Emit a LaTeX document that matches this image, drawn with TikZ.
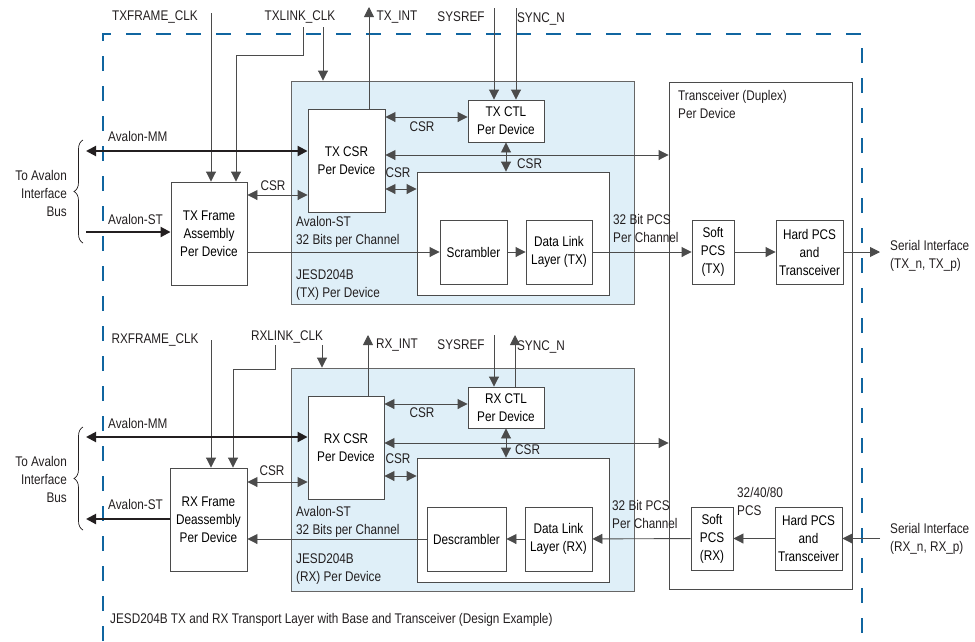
\documentclass[tikz,border=0pt]{standalone}
\usepackage{fontspec}
\setmainfont{Liberation Sans}[FakeStretch=0.84]
\usepackage{tikz}
\usetikzlibrary{arrows.meta,decorations.pathreplacing}
\definecolor{dashblue}{RGB}{16,101,160}
\definecolor{jesdfill}{RGB}{223,239,248}
\definecolor{ink}{RGB}{35,31,32}
\definecolor{wire}{RGB}{75,75,75}
\tikzset{
  blk/.style={draw=wire,line width=0.9pt,fill=white,align=center,inner sep=0pt},
  jesd/.style={draw=wire!85,line width=0.9pt,fill=jesdfill,inner sep=0pt},
  lbl/.style={inner sep=0pt,align=left,text=ink},
  sig/.style={draw=wire,line width=0.9pt},
  bus/.style={draw=ink,line width=2pt},
  brc/.style={draw=ink,line width=0.7pt,decorate,decoration={brace,amplitude=9pt}},
  dashbox/.style={draw=dashblue,line width=2pt,dash pattern=on 15pt off 15pt}
}
\begin{document}
\begin{tikzpicture}[x=1pt,y=-1pt,>={Triangle[length=10pt,width=10pt]},font=\fontsize{14pt}{18pt}\selectfont]
\useasboundingbox (0,0) rectangle (975,641);
\draw[dashbox] (103,641) -- (103,34) -- (862,34) -- (862,641);
% TX half
\node[jesd, minimum width=343, minimum height=223] (txjesd) at (462.5,192.5) {};
\node[blk, minimum width=183, minimum height=507] (xcvr) at (760.5,335.5) {};
\node[blk, minimum width=76, minimum height=103] (txfr) at (209,233.5) {TX Frame\\Assembly\\Per Device};
\node[blk, minimum width=77, minimum height=103] (txcsr) at (346.5,160.5) {TX CSR\\Per Device};
\node[blk, minimum width=76, minimum height=42] (txctl) at (506,121) {TX CTL\\Per Device};
\node[blk, minimum width=192, minimum height=123] (txinner) at (513,233.5) {};
\node[blk, minimum width=67, minimum height=64] (txscr) at (473.5,252) {Scrambler};
\node[blk, minimum width=66, minimum height=64] (txdll) at (559,252) {Data Link\\Layer (TX)};
\node[blk, minimum width=42, minimum height=64] (txsoft) at (713,252) {Soft\\PCS\\(TX)};
\node[blk, minimum width=67, minimum height=64] (txhard) at (809.5,252) {Hard PCS\\and\\Transceiver};
\node[lbl, anchor=west] (txstl) at (296,232) {Avalon-ST\\32 Bits per Channel};
\node[lbl, anchor=west] (txjesdl) at (296,285) {JESD204B\\(TX) Per Device};
\node[lbl, anchor=west] (xcvrl) at (678,104.5) {Transceiver (Duplex)\\Per Device};
\node[lbl, anchor=west] (txpcsl) at (613,228.5) {32 Bit PCS\\Per Channel};
\node[lbl] (txfclkl) at (155,17) {TXFRAME\_CLK};
\node[lbl] (txlclkl) at (300,17) {TXLINK\_CLK};
\node[lbl] (txintl) at (397,17) {TX\_INT};
\node[lbl] (txsysl) at (461,17) {SYSREF};
\node[lbl] (txsyncl) at (541,19) {SYNC\_N};
\node[lbl, anchor=west] (txmml) at (108,136) {Avalon-MM};
\node[lbl, anchor=west] (txstwl) at (108,219) {Avalon-ST};
\node[lbl, anchor=east, align=right] (txbusl) at (67,193) {To Avalon\\Interface\\Bus};
\node[lbl] (txcsra) at (273,186) {CSR};
\node[lbl] (txcsrb) at (422,127) {CSR};
\node[lbl, anchor=west] (txcsrc) at (517,164) {CSR};
\node[lbl] (txcsrd) at (398,173) {CSR};
\node[lbl, anchor=west] (txserl) at (890,256) {Serial Interface\\(TX\_n, TX\_p)};
\coordinate (txfclk) at (211,13);
\coordinate (txlclk) at (303,27);
\coordinate (txlclkb) at (323,27);
\coordinate (txint) at (369,7);
\coordinate (txsys) at (494,8);
\coordinate (txsync) at (516,8);
\coordinate (txmm) at (86,151);
\coordinate (txst) at (86,232);
\coordinate (txser) at (880,252);
\draw[sig,->] (txfclk) -- (txfclk |- txfr.north);
\draw[sig,->] (txlclk) -- ++(0,28) -| ([xshift=27]txfr.north);
\draw[sig,->] (txlclkb) -- (txlclkb |- txjesd.north);
\draw[sig,->] (txint |- txcsr.north) -- (txint);
\draw[sig,->] (txsys) -- (txsys |- txctl.north);
\draw[sig,->] (txsync) -- (txsync |- txctl.north);
\draw[bus,<->] (txmm) -- (txmm -| txcsr.west);
\draw[bus,->] (txst) -- (txst -| txfr.west);
\draw[sig,<->] (txfr.east |- 0,195) -- (txcsr.west |- 0,195);
\draw[sig,<->] (txcsr.east |- 0,117) -- (txctl.west |- 0,117);
\draw[sig,<->] (txcsr.east |- 0,155) -- (xcvr.west |- 0,155);
\draw[sig,<->] (txcsr.east |- 0,189) -- (txinner.west |- 0,189);
\draw[sig,<->] (txctl.south) -- (txctl.south |- txinner.north);
\draw[sig,->] (txfr.east |- txscr) -- (txscr.west);
\draw[sig,->] (txscr) -- (txdll);
\draw[sig,->] (txdll) -- (txsoft);
\draw[sig,->] (txsoft) -- (txhard);
\draw[sig,->] (txhard) -- (txser);
\draw[brc] (83,243) -- (83,140);
% RX half
\node[jesd, minimum width=343, minimum height=223] (rxjesd) at (462.5,479.5) {};
\node[blk, minimum width=77, minimum height=103] (rxfr) at (208.5,519.5) {RX Frame\\Deassembly\\Per Device};
\node[blk, minimum width=76, minimum height=103] (rxcsr) at (346,447.5) {RX CSR\\Per Device};
\node[blk, minimum width=76, minimum height=41] (rxctl) at (506,407.5) {RX CTL\\Per Device};
\node[blk, minimum width=192, minimum height=124] (rxinner) at (513,520) {};
\node[blk, minimum width=79, minimum height=64] (rxdes) at (466.5,539) {Descrambler};
\node[blk, minimum width=67, minimum height=64] (rxdll) at (558.5,539) {Data Link\\Layer (RX)};
\node[blk, minimum width=42, minimum height=63] (rxsoft) at (712,538.5) {Soft\\PCS\\(RX)};
\node[blk, minimum width=67, minimum height=63] (rxhard) at (808.5,538.5) {Hard PCS\\and\\Transceiver};
\node[lbl, anchor=west] (rxstl) at (296,522) {Avalon-ST\\32 Bits per Channel};
\node[lbl, anchor=west] (rxjesdl) at (296,569.5) {JESD204B\\(RX) Per Device};
\node[lbl, anchor=west] (rxpcsl) at (612,514.5) {32 Bit PCS\\Per Channel};
\node[lbl, anchor=west] (rxwidl) at (737,501.5) {32/40/80\\PCS};
\node[lbl] (rxfclkl) at (155,340) {RXFRAME\_CLK};
\node[lbl] (rxlclkl) at (287,337) {RXLINK\_CLK};
\node[lbl] (rxintl) at (397,345) {RX\_INT};
\node[lbl] (rxsysl) at (461,345) {SYSREF};
\node[lbl] (rxsyncl) at (541,347) {SYNC\_N};
\node[lbl, anchor=west] (rxmml) at (108,423) {Avalon-MM};
\node[lbl, anchor=west] (rxstwl) at (108,504) {Avalon-ST};
\node[lbl, anchor=east, align=right] (rxbusl) at (67,479) {To Avalon\\Interface\\Bus};
\node[lbl] (rxcsra) at (272,471) {CSR};
\node[lbl] (rxcsrb) at (422,413) {CSR};
\node[lbl, anchor=west] (rxcsrc) at (515,450) {CSR};
\node[lbl] (rxcsrd) at (398,459) {CSR};
\node[lbl, anchor=west] (rxserl) at (890,538.5) {Serial Interface\\(RX\_n, RX\_p)};
\node[lbl, anchor=west] (foot) at (110,620) {JESD204B TX and RX Transport Layer with Base and Transceiver (Design Example)};
\coordinate (rxfclk) at (211,340);
\coordinate (rxlclk) at (275,345);
\coordinate (rxlclkb) at (322,345);
\coordinate (rxint) at (368,335);
\coordinate (rxsys) at (494,335);
\coordinate (rxsync) at (515,335);
\coordinate (rxmm) at (86,437);
\coordinate (rxst) at (86,519);
\coordinate (rxser) at (880,538.5);
\draw[sig,->] (rxfclk) -- (rxfclk |- rxfr.north);
\draw[sig,->] (rxlclk) -- ++(0,24) -| ([xshift=24.5]rxfr.north);
\draw[sig,->] (rxlclkb) -- (rxlclkb |- rxjesd.north);
\draw[sig,->] (rxint |- rxcsr.north) -- (rxint);
\draw[sig,->] (rxsys) -- (rxsys |- rxctl.north);
\draw[sig,->] (rxsync |- rxctl.north) -- (rxsync);
\draw[bus,<->] (rxmm) -- (rxmm -| rxcsr.west);
\draw[bus,->] (rxst -| rxfr.west) -- (rxst);
\draw[sig,<->] (rxfr.east |- 0,482) -- (rxcsr.west |- 0,482);
\draw[sig,<->] (rxcsr.east |- 0,404) -- (rxctl.west |- 0,404);
\draw[sig,<->] (rxcsr.east |- 0,443) -- (xcvr.west |- 0,443);
\draw[sig,<->] (rxcsr.east |- 0,476) -- (rxinner.west |- 0,476);
\draw[sig,<->] (rxctl.south) -- (rxctl.south |- rxinner.north);
\draw[sig,->] (rxdes.west) -- (rxfr.east |- rxdes);
\draw[sig,->] (rxdll) -- (rxdes);
\draw[sig,->] (rxsoft) -- (rxdll);
\draw[sig,->] (rxhard) -- (rxsoft);
\draw[sig,->] (rxser) -- (rxhard);
\draw[brc] (83,530) -- (83,427);
\end{tikzpicture}
\end{document}
